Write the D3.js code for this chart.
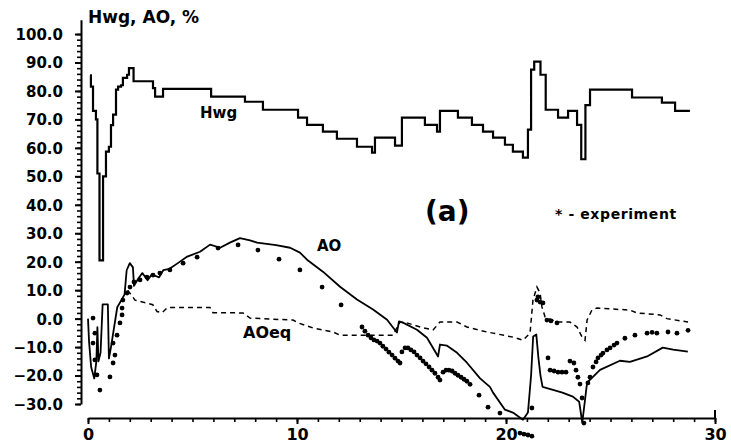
<!DOCTYPE html>
<html>
<head>
<meta charset="utf-8">
<script src="https://cdn.jsdelivr.net/npm/d3@7"></script>
<style>
  body { margin: 0; background: #fff; }
  text { font-family: "DejaVu Sans", sans-serif; font-weight: bold; fill: #000; }
</style>
</head>
<body>
<div id="chart"></div>
<script>
// Hwg (stepped line), [time, %] -- each value holds until the next time
var hwgSteps = [
  [0.10, 85.5], [0.14, 81.5], [0.24, 73], [0.38, 70], [0.45, 51], [0.55, 20.5],
  [0.72, 50], [0.86, 58.7], [1.00, 60.4], [1.10, 68], [1.20, 71.7], [1.34, 80.5],
  [1.44, 81.5], [1.58, 82], [1.67, 84.6], [1.87, 85.7], [1.96, 88], [2.18, 83.4],
  [3.11, 81], [3.21, 78], [3.59, 80.7], [5.89, 78], [7.51, 76.2], [8.37, 73.4],
  [10.05, 70.6], [10.48, 68.1], [11.24, 65.7], [11.91, 63.2], [12.87, 60.4],
  [13.59, 58.3], [13.73, 63.6], [14.69, 60.8], [15.02, 70.6], [16.12, 68.1],
  [16.70, 65.7], [16.84, 73], [17.70, 70.6], [18.37, 68.1], [18.90, 65.7],
  [19.38, 63.6], [19.95, 61.1], [20.33, 58.7], [20.81, 56.6], [21.05, 66.4],
  [21.20, 87.5], [21.35, 90.3], [21.65, 85.7], [21.90, 73.4], [22.49, 70.6],
  [22.97, 73], [23.40, 68.1], [23.60, 56], [23.80, 75], [24.02, 80.5],
  [26.03, 77.7], [27.46, 75.9], [28.09, 73], [28.80, 73]
];

// AO (solid line)
var aoPoints = [
  [0.00, 0], [0.05, -8], [0.15, -17], [0.30, -21], [0.40, -15], [0.45, -3],
  [0.50, -15], [0.60, -12], [0.70, 5], [0.95, 5], [1.00, -14], [1.10, -10],
  [1.25, -3], [1.40, 4], [1.60, 6.5], [1.75, 8.5], [1.85, 17], [2.00, 19.5],
  [2.15, 18], [2.20, 11.5], [2.40, 14], [2.60, 16], [2.85, 13.5], [3.05, 15.5],
  [3.40, 14.5], [3.60, 17], [3.90, 17.5], [4.30, 19.5], [4.75, 21.8], [5.36, 23.5],
  [5.84, 26], [6.32, 24.9], [6.79, 26.7], [7.27, 28.3], [7.75, 27.5], [8.09, 26.7],
  [9.00, 25.8], [9.67, 24.9], [10.14, 23.2], [10.48, 20.7], [11.24, 16.5],
  [12.06, 11.2], [12.87, 6.7], [13.64, 3.2], [14.31, -0.4], [14.78, -4.9],
  [14.88, -1], [15.07, -1.4], [15.74, -3.9], [16.22, -6.7], [16.75, -13.3],
  [16.84, -9.1], [17.18, -9.5], [17.66, -12], [18.13, -15.5], [18.76, -21],
  [19.23, -24], [19.38, -26], [19.95, -32], [20.33, -33], [20.81, -35.5],
  [21.05, -33], [21.20, -20], [21.30, -6.3], [21.45, -5.6], [21.55, -13.7],
  [21.65, -20], [21.75, -24], [22.25, -25], [22.70, -26], [23.20, -27.4],
  [23.50, -29.2], [23.65, -36.5], [23.88, -22.5], [24.50, -18], [25.45, -14.8],
  [25.93, -15.2], [26.75, -13.3], [27.50, -10.2], [28.00, -10.9], [28.70, -11.6]
];

// AOeq (dashed line)
var aoeqPoints = [
  [1.90, 10], [2.25, 6.5], [2.50, 6], [3.10, 4.9], [3.30, 2.5], [3.55, 2.1],
  [3.80, 3.9], [5.84, 3.9], [5.98, 2.1], [7.42, 2.0], [7.75, 0.2], [8.23, 0],
  [9.81, -0.5], [10.05, -1.5], [10.77, -3.3], [11.72, -4.7], [12.06, -5.8],
  [14.59, -5.8], [14.93, -1.2], [15.26, -1.5], [15.89, -2.95], [16.51, -4.0],
  [16.84, -1.2], [17.66, -1.2], [18.13, -2.95], [19.09, -4.7], [19.38, -5.1],
  [20.33, -6.5], [20.81, -7.6], [21.15, -5.1], [21.29, 6.5], [21.48, 11.1],
  [21.63, 9.0], [21.72, 4.1], [21.87, 0.6], [22.44, -1.2], [23.06, -1.2],
  [23.40, -2.95], [23.64, -6.5], [23.78, -7.6], [23.88, -0.5], [24.11, 3.0],
  [24.35, 3.7], [25.93, 3.0], [26.27, 2.0], [27.37, 1.3], [27.70, 0], [28.71, -1.2]
];

// experiment points
var expPoints = [
  [0.24, 0.2], [0.24, -8.6], [0.33, -5.1], [0.33, -14.5], [0.43, -19.8], [0.57, -25.1],
  [1.05, -20.5], [1.20, -15.6], [1.29, -12.8], [1.20, -8.6], [1.39, -5.8], [1.53, -1.5],
  [1.63, 1.3], [1.63, 3.7], [1.67, 6.5], [1.87, 9.0], [2.01, 11.1], [2.20, 12.9],
  [2.49, 13.6], [2.82, 14.6], [3.11, 15.3], [3.44, 16.0], [3.92, 17.1], [4.55, 19.5],
  [5.22, 21.6], [6.22, 24.8], [7.18, 25.9], [8.13, 24.1], [9.14, 20.9], [10.14, 17.1],
  [11.20, 11.1], [12.11, 4.8],
  [13.11, -2.95], [13.25, -4.4], [13.40, -5.8], [13.54, -6.8], [13.68, -7.5], [13.83, -7.9],
  [13.97, -8.6], [14.11, -9.7], [14.26, -10.7], [14.40, -11.8], [14.55, -12.8], [14.69, -13.9],
  [14.83, -14.9], [14.93, -15.6],
  [15.02, -11.7], [15.17, -10.3], [15.31, -10.3], [15.45, -11.0], [15.60, -11.7], [15.74, -12.8],
  [15.89, -13.8], [16.03, -14.9], [16.17, -15.9], [16.32, -17.0], [16.46, -18.1], [16.60, -19.2],
  [16.75, -20.6], [16.84, -21.6],
  [16.99, -18.8], [17.13, -18.1], [17.27, -18.1], [17.42, -18.4], [17.56, -19.2], [17.70, -19.9],
  [17.85, -20.6], [17.99, -21.3], [18.13, -22.0], [18.28, -23.1],
  [18.71, -26.9], [19.14, -31.1], [19.71, -33.2],
  [20.67, -40.2], [20.86, -40.6], [21.05, -40.9], [21.24, -41.3], [21.24, -31.4],
  [21.48, 6.5], [21.53, 7.6], [21.63, 5.8], [21.77, 5.5],
  [21.96, -0.5], [22.15, -0.8], [22.44, -1.5], [22.01, -13.8],
  [22.11, -18.1], [22.30, -18.4], [22.49, -18.8], [22.68, -18.8], [22.87, -18.8],
  [23.06, -14.9], [23.25, -15.6], [23.35, -18.1], [23.44, -20.6], [23.54, -23.0],
  [23.64, -27.9], [23.73, -36.7],
  [23.92, -22.6], [24.02, -20.6], [24.16, -17.0], [24.31, -15.2], [24.40, -13.8],
  [24.55, -12.8], [24.64, -12.1], [24.83, -11.0], [24.98, -10.3], [25.17, -9.3],
  [25.31, -8.6], [25.69, -6.9], [26.17, -5.8], [26.75, -5.1], [26.99, -4.8],
  [27.22, -5.1], [27.75, -4.7], [28.18, -5.1], [28.71, -4.1]
];

var yMajorTicks = [-30, -20, -10, 0, 10, 20, 30, 40, 50, 60, 70, 80, 90, 100];
var xMajorTicks = [0, 10, 20, 30];

// set the dimensions of the graph
var width = 731, height = 446;

var svg = d3.select("#chart")
  .append("svg")
  .attr("width", width)
  .attr("height", height);

var x = d3.scaleLinear().domain([0, 30]).range([88, 715]);
var y = d3.scaleLinear().domain([-30, 105]).range([404, 19.8]);

// Y axis: minor ticks every 2, labelled ticks every 10
svg.append("g")
  .attr("transform", "translate(81,0)")
  .call(d3.axisLeft(y).tickValues(d3.range(-30, 101, 2)).tickSize(4).tickSizeOuter(0).tickFormat(""))
  .call(g => g.selectAll("line").attr("stroke", "#000").attr("stroke-width", 1.6))
  .call(g => g.select(".domain").attr("stroke-width", 2));

svg.append("g")
  .attr("transform", "translate(81,0)")
  .call(d3.axisLeft(y).tickValues(yMajorTicks).tickSize(6).tickPadding(12).tickFormat(d3.format(".1f")))
  .call(g => g.select(".domain").remove())
  .call(g => g.selectAll("line").attr("stroke-width", 2))
  .call(g => g.selectAll("text")
    .style("font-family", "DejaVu Sans").style("font-weight", "bold").style("font-size", "15px")
    .attr("dy", "0.36em"));

// X axis
svg.append("g")
  .attr("transform", "translate(0,418)")
  .call(d3.axisBottom(x).tickValues(d3.range(0, 31, 1)).tickSize(4).tickSizeOuter(0).tickFormat(""))
  .call(g => g.selectAll("line").attr("stroke-width", 1.6))
  .call(g => g.select(".domain").attr("stroke-width", 2));

svg.append("g")
  .attr("transform", "translate(0,418)")
  .call(d3.axisBottom(x).tickValues(xMajorTicks).tickSize(6).tickPadding(5).tickFormat(d3.format("d")))
  .call(g => g.select(".domain").remove())
  .call(g => g.selectAll("line").attr("stroke-width", 2))
  .call(g => g.selectAll("text")
    .style("font-family", "DejaVu Sans").style("font-weight", "bold").style("font-size", "16px"));

// small upward ends of the x axis
svg.append("line")
  .attr("x1", x(30)).attr("x2", x(30))
  .attr("y1", 418).attr("y2", 410)
  .attr("stroke", "#000").attr("stroke-width", 2);

// lines
var line = d3.line().x(d => x(d[0])).y(d => y(d[1]));

svg.append("path")
  .datum(hwgSteps)
  .attr("d", d3.line().x(d => x(d[0])).y(d => y(d[1])).curve(d3.curveStepAfter))
  .attr("fill", "none")
  .attr("stroke", "#000")
  .attr("stroke-width", 2.2);

svg.append("path")
  .datum(aoPoints)
  .attr("d", line)
  .attr("fill", "none")
  .attr("stroke", "#000")
  .attr("stroke-width", 1.8)
  .attr("stroke-linejoin", "round");

svg.append("path")
  .datum(aoeqPoints)
  .attr("d", line)
  .attr("fill", "none")
  .attr("stroke", "#000")
  .attr("stroke-width", 1.5)
  .attr("stroke-dasharray", "5,4");

svg.selectAll("circle.exp")
  .data(expPoints)
  .enter()
  .append("circle")
  .attr("class", "exp")
  .attr("cx", d => x(d[0]))
  .attr("cy", d => y(d[1]))
  .attr("r", 2.4)
  .attr("fill", "#000");

// labels
svg.append("text").attr("x", 88).attr("y", 23).style("font-size", "17px").text("Hwg, AO, %");
svg.append("text").attr("x", 200).attr("y", 118).style("font-size", "15px").text("Hwg");
svg.append("text").attr("x", 317).attr("y", 251).style("font-size", "15px").text("AO");
svg.append("text").attr("x", 243).attr("y", 338).style("font-size", "16px").text("AOeq");
svg.append("text").attr("x", 425).attr("y", 221).style("font-size", "28px").text("(a)");
svg.append("text").attr("x", 555).attr("y", 219).style("font-size", "14px").style("letter-spacing", "0.6px").text("* - experiment");
</script>
</body>
</html>
